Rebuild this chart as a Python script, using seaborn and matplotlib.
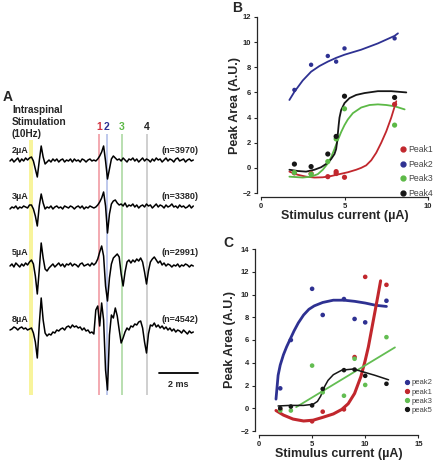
import numpy as np
import seaborn as sns
import matplotlib.pyplot as plt
from matplotlib.lines import Line2D

# ---------------- panel A: averaged spinal traces (one sample per 0.1 ms) ----------------
dt_ms = 0.1
trace_labels = ['2µA', '3µA', '5µA', '8µA']
trace_counts = ['(n=3970)', '(n=3380)', '(n=2991)', '(n=4542)']

trace_2uA = [0, 2, -1, 1, 3, -1, 2, 0, 3, 1,
             3, 4, 0, -8, -16, 0, 15, 4, -3, -1,
             1, -1, 2, 0, 2, -1, 1, 2, -1, 1, 0, 2, -1, 2, 0, 1, -1, 2, 1, -1, 1, 2, 0, 1,
             0, 2, 5, 9, 15, 0, -18, -8, 2, 5, 3, 1,
             2, 0, 3, 1, -1, 2, 1, 3, 0, 2, -1, 1, 3, 0, 2, 1, -1, 2, 0, 3,
             1, 2, -1, 1, 3, 0, 2, 1, -1, 2, 3, 0, 1, 2, -1, 1, 2, 0, 1]
trace_3uA = [-1, 1, 0, 2, -1, 1, 0, 2, 1, 0,
             3, 3, -1, -8, -18, 2, 14, 5, -1, 1,
             0, 2, -1, 1, 2, 0, 1, -1, 2, 1, 0, 2, 1, -1, 1, 2, 0, 2, -1, 1, 0, 2, 1, 0,
             1, 3, 6, 10, 16, 2, -25, -6, 4, 7, 8, 5,
             3, 4, 2, 5, 1, 3, 2, 4, 1, 3, 0, 2, 3, 1, 4, 2, 3, 0, 2, 4,
             1, 3, 2, 0, 3, 1, 2, 4, 1, 2, 0, 3, 1, 2, 0, 1, 3, 0, 2]
trace_5uA = [0, 2, -1, 3, 1, -1, 2, 0, 3, 1,
             4, 6, 2, -10, -28, -4, 23, 8, -3, -5,
             -2, 0, 2, -1, 1, 3, 0, 2, -1, 2, 1, 3, 0, 2, 1, -1, 2, 3, 0, 1, 2, 0, 3, 1,
             3, 7, 14, 20, 10, -20, -35, -12, 2, 8, 10, 12, 9, -8, -20, -6, 4, 6, 3, 6,
             4, 7, 5, 8, 4, -6, -18, -5, 4, 7, 9, 6,
             3, 5, 1, 3, 0, 2, 1, -1, 1, 0, 2, -1, 1, 0, 2, 1, -1, 1, 0]
trace_8uA = [0, 1, 3, 2, 0, 2, 3, 1, 2, 0,
             1, 2, -3, -12, -28, 5, 32, 10, -3, -6,
             -4, -5, -2, -3, 0, -1, 1, 2, 0, 3, 4, 2, 5, 3, 4, 2, 3, 0, 2, -1, 0, -3, -2, -4,
             20, 24, 4, 27, 10, -40, -60, -5, 15, 12, 22, 14, 0, -13, -8, -2, 2, 0, 4, 3,
             6, 5, 8, 9, 2, -12, -23, -4, 5, 4, 7, 3,
             5, 2, 4, 1, 3, 0, 2, -1, 1, -2, 0, -1, -3, 0, -2, -4, -1, -3, -2]

stim_ms = 1.08
peak_ms = [4.56, 4.96, 5.73, 7.0]
peak_names = ['1', '2', '3', '4']

# ---------------- panel B ----------------
b_peak1_x = [2, 3, 4, 4.5, 4.5, 5, 8]
b_peak1_y = [-0.4, -0.45, -0.7, -0.3, -0.45, -0.75, 5.05]
b_peak2_x = [2, 3, 4, 4.5, 5, 8]
b_peak2_y = [6.2, 8.2, 8.9, 8.45, 9.5, 10.3]
b_peak3_x = [2, 3, 4, 4.5, 5, 8]
b_peak3_y = [-0.37, -0.5, 0.5, 2.3, 4.7, 3.4]
b_peak4_x = [2, 3, 4, 4.5, 5, 8]
b_peak4_y = [0.3, 0.1, 1.1, 2.5, 5.7, 5.6]

b_fit1_x = [1.7, 2.2, 2.7, 3.2, 3.7, 4.2, 4.7, 5.2, 5.7, 6.0, 6.3, 6.6, 6.9, 7.2, 7.5, 7.8, 8.1]
b_fit1_y = [-0.3, -0.55, -0.7, -0.77, -0.75, -0.65, -0.5, -0.35, -0.15, 0.0, 0.2, 0.6, 1.2, 2.0, 2.9, 4.0, 5.3]
b_fit2_x = [1.7, 2.0, 2.5, 3.0, 3.5, 4.0, 4.5, 5.0, 5.5, 6.0, 6.5, 7.0, 7.5, 8.0, 8.2]
b_fit2_y = [5.4, 6.05, 6.95, 7.65, 8.1, 8.45, 8.75, 9.0, 9.2, 9.4, 9.65, 9.9, 10.2, 10.5, 10.7]
b_fit3_x = [1.7, 2.5, 3.0, 3.4, 3.7, 4.0, 4.2, 4.4, 4.6, 4.8, 5.0, 5.2, 5.5, 6.0, 6.5, 7.0, 7.5, 8.0, 8.6]
b_fit3_y = [-0.7, -0.77, -0.7, -0.5, -0.15, 0.35, 0.85, 1.5, 2.2, 2.85, 3.4, 3.85, 4.35, 4.8, 5.0, 5.05, 5.0, 4.9, 4.65]
b_fit4_x = [1.7, 2.2, 2.7, 3.2, 3.6, 4.0, 4.2, 4.4, 4.5, 4.55, 4.6, 4.65, 4.7, 4.8, 5.0, 5.3, 5.7, 6.2, 7.0, 7.8, 8.7]
b_fit4_y = [-0.15, -0.25, -0.3, -0.15, 0.05, 0.4, 0.7, 1.1, 1.5, 2.0, 2.7, 3.4, 4.0, 4.6, 5.15, 5.55, 5.8, 5.95, 6.1, 6.1, 6.0]

# ---------------- panel C ----------------
c_peak2_x = [2, 3, 5, 6, 8, 9, 10, 12]
c_peak2_y = [1.75, 6.0, 10.5, 8.2, 9.6, 7.85, 7.55, 9.45]
c_peak1_x = [2, 5, 6, 8, 9, 10, 12]
c_peak1_y = [-0.1, -1.15, -0.3, -0.1, 4.5, 11.55, 10.85]
c_peak3_x = [2, 3, 5, 6, 8, 9, 10, 12]
c_peak3_y = [-0.2, -0.2, 3.75, 1.4, 1.1, 4.35, 2.05, 6.25]
c_peak5_x = [2, 3, 5, 6, 8, 9, 10, 12]
c_peak5_y = [0.0, 0.15, 0.25, 1.7, 3.35, 3.4, 2.85, 2.15]

c_fit2_x = [1.6, 1.8, 2.0, 2.3, 2.6, 2.9, 3.3, 3.7, 4.2, 4.7, 5.2, 6.0, 7.0, 8.0, 9.0, 10.0, 11.0, 12.0]
c_fit2_y = [0.8, 2.9, 3.8, 4.7, 5.4, 6.0, 6.8, 7.5, 8.2, 8.7, 9.0, 9.3, 9.5, 9.5, 9.4, 9.25, 9.05, 8.95]
c_fit1_x = [1.6, 2.3, 3.2, 4.2, 5.1, 6.0, 7.0, 7.8, 8.4, 9.0, 9.6, 10.0, 10.3, 10.6, 10.9, 11.2, 11.45]
c_fit1_y = [-0.2, -0.6, -0.95, -1.12, -1.05, -0.8, -0.5, -0.1, 0.4, 1.3, 2.8, 4.2, 5.4, 6.9, 8.4, 9.9, 11.2]
c_fit3_x = [3.5, 12.8]
c_fit3_y = [0.1, 5.35]
c_fit5_x = [1.8, 2.9, 4.2, 5.1, 5.5, 5.8, 6.0, 6.2, 6.5, 7.0, 7.8, 8.9, 9.8, 10.9, 12.2]
c_fit5_y = [0.2, 0.25, 0.25, 0.35, 0.6, 1.05, 1.5, 1.95, 2.45, 2.95, 3.35, 3.45, 3.2, 2.9, 2.5]

RED, BLUE, GREEN, BLACK = '#c1272d', '#2e3192', '#5cb946', '#161616'

sns.set_style('ticks')
plt.rcParams['font.family'] = ['Liberation Sans', 'DejaVu Sans']

W, H = 433, 465
fig = plt.figure(figsize=(W / 100, H / 100), dpi=100)

# ---- panel A, drawn in an axes whose y unit is one pixel ----
ms_px = 19.5
ax_a = fig.add_axes([0, 0, 200 / W, 1])
ax_a.set_xlim(-10 / ms_px, 190 / ms_px)
ax_a.set_ylim(-H, 0)
ax_a.axis('off')


def pa(xpx, ypx):
    return (xpx - 10) / ms_px, -ypx


ax_a.fill_betweenx([-395, -140], stim_ms - 0.1, stim_ms + 0.1, color='#f8f49c', lw=0, zorder=0)
line_cols = ['#f2a3aa', '#b9c4ea', '#b3dcaa', '#cccccc']
text_cols = ['#d2323f', '#2e3192', '#5cb946', '#222222']
ax_a.vlines(peak_ms, -395, -134, colors=line_cols, lw=1.3, zorder=1)
for t, name, c in zip(peak_ms, peak_names, text_cols):
    ax_a.text(t, -127, name, color=c, fontsize=7.5, fontweight='bold', ha='center', va='center')

baselines = [161, 208, 266, 330]
label_y = [150, 196, 252, 319]
traces = [trace_2uA, trace_3uA, trace_5uA, trace_8uA]
for vals, base, ly, lab, cnt in zip(traces, baselines, label_y, trace_labels, trace_counts):
    t = np.arange(len(vals)) * dt_ms
    sns.lineplot(x=t, y=np.array(vals) - base, ax=ax_a, color='black', lw=1.1,
                 estimator=None, sort=False, zorder=3)
    ax_a.text(*pa(12, ly), lab, fontsize=6.5, fontweight='bold', va='center', ha='left')
    ax_a.text(*pa(161, ly), cnt, fontsize=6.5, fontweight='bold', va='center', ha='left')

ax_a.text(*pa(3, 97), 'A', fontsize=10, fontweight='bold', va='center', ha='left')
ax_a.text(*pa(12, 105), 'Intraspinal\nStimulation\n(10Hz)', fontsize=7.2, fontweight='bold',
          va='top', ha='left', linespacing=1.25)
ax_a.plot([7.64, 9.64], [-373, -373], color='black', lw=1.3)
ax_a.text(8.64, -384, '2 ms', fontsize=6.5, fontweight='bold', ha='center', va='center')


def style_axes(ax, xticks, yticks):
    sns.despine(ax=ax, offset=3)
    ax.set_xticks(xticks)
    ax.set_yticks(yticks)
    ax.tick_params(labelsize=5.5, length=2.5, width=0.8, pad=1.5)
    for lab in ax.get_xticklabels() + ax.get_yticklabels():
        lab.set_fontweight('bold')
    for s in ax.spines.values():
        s.set_linewidth(0.9)
    ax.set_xlabel('Stimulus current (µA)', fontsize=9, fontweight='bold', labelpad=0)
    ax.set_ylabel('Peak Area (A.U.)', fontsize=9, fontweight='bold', labelpad=1)


def legend_handles(colors, size):
    return [Line2D([], [], marker='o', ls='none', color=c, markersize=size) for c in colors]


# ---- panel B ----
ax_b = fig.add_axes([261 / W, 1 - 193 / H, 167 / W, 176 / H])
b_series = [(b_fit1_x, b_fit1_y, b_peak1_x, b_peak1_y, RED, 14),
            (b_fit2_x, b_fit2_y, b_peak2_x, b_peak2_y, BLUE, 10),
            (b_fit3_x, b_fit3_y, b_peak3_x, b_peak3_y, GREEN, 14),
            (b_fit4_x, b_fit4_y, b_peak4_x, b_peak4_y, BLACK, 14)]
for fx, fy, px, py, c, s in b_series:
    sns.lineplot(x=fx, y=fy, ax=ax_b, color=c, lw=1.3, estimator=None, sort=False)
    sns.scatterplot(x=px, y=py, ax=ax_b, color=c, s=s, edgecolor='none', zorder=4)
ax_b.set_xlim(0, 10)
ax_b.set_ylim(-2, 12)
style_axes(ax_b, [0, 5, 10], range(-2, 13, 2))
ax_b.legend(legend_handles([RED, BLUE, GREEN, BLACK], 3.5), ['Peak1', 'Peak2', 'Peak3', 'Peak4'],
            loc='upper left', bbox_to_anchor=(400 / W, 1 - 145 / H), bbox_transform=fig.transFigure,
            frameon=False, fontsize=6.2, handlelength=0.8, handletextpad=0.15, labelspacing=0.65,
            borderpad=0, borderaxespad=0, labelcolor='#444444')

# ---- panel C ----
ax_c = fig.add_axes([259 / W, 1 - 431 / H, 159.3 / W, 182 / H])
c_series = [(c_fit2_x, c_fit2_y, c_peak2_x, c_peak2_y, BLUE, 2.0),
            (c_fit1_x, c_fit1_y, c_peak1_x, c_peak1_y, RED, 2.2),
            (c_fit3_x, c_fit3_y, c_peak3_x, c_peak3_y, '#63bd52', 1.3),
            (c_fit5_x, c_fit5_y, c_peak5_x, c_peak5_y, BLACK, 1.1)]
for fx, fy, px, py, c, lw in c_series:
    sns.lineplot(x=fx, y=fy, ax=ax_c, color=c, lw=lw, estimator=None, sort=False)
    sns.scatterplot(x=px, y=py, ax=ax_c, color=c, s=11, edgecolor='none', zorder=4)
ax_c.set_xlim(0, 15)
ax_c.set_ylim(-2, 14)
style_axes(ax_c, [0, 5, 10, 15], range(-2, 15, 2))
ax_c.yaxis.labelpad = 3
ax_c.legend(legend_handles([BLUE, RED, '#63bd52', BLACK], 2.8), ['peak2', 'peak1', 'peak3', 'peak5'],
            loc='upper left', bbox_to_anchor=(405 / W, 1 - 379 / H), bbox_transform=fig.transFigure,
            frameon=False, fontsize=5.5, handlelength=0.6, handletextpad=0.2, labelspacing=0.25,
            borderpad=0, borderaxespad=0, labelcolor='#444444')

fig.text(232 / W, 1 - 8 / H, 'B', fontsize=10, fontweight='bold', va='center', ha='left')
fig.text(223 / W, 1 - 243 / H, 'C', fontsize=10, fontweight='bold', va='center', ha='left')

fig.savefig('out.png', dpi=100)
